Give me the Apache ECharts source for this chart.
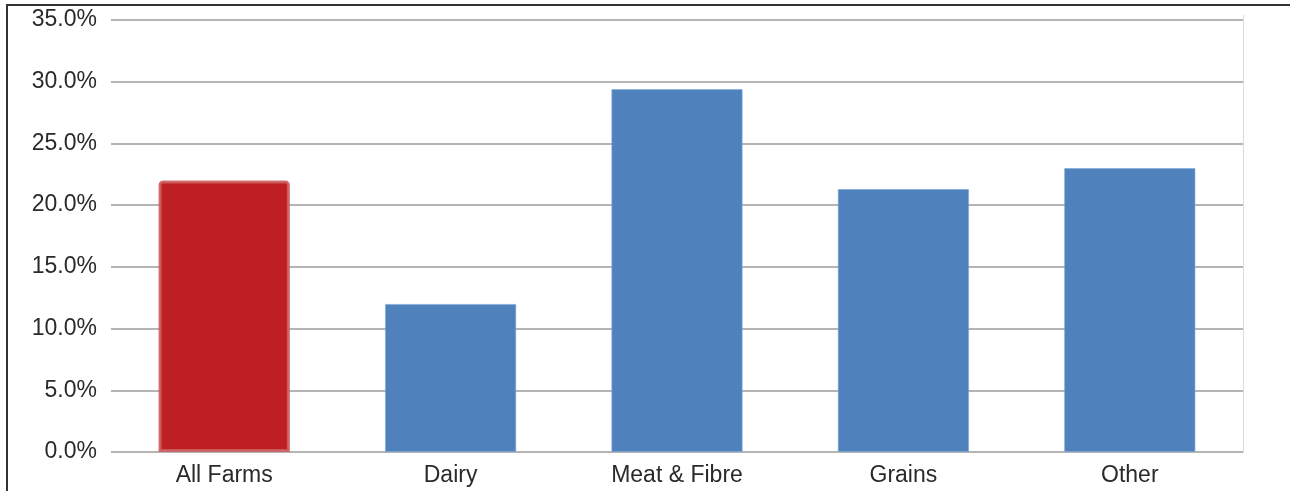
<!DOCTYPE html>
<html>
<head>
<meta charset="utf-8">
<script src="https://cdn.jsdelivr.net/npm/echarts@6/dist/echarts.min.js"></script>
<style>
  html, body { margin: 0; padding: 0; background: #fff; }
  #chart { width: 1290px; height: 491px; }
</style>
</head>
<body>
<div id="chart"></div>
<script>
// Share of farms by industry (%)
const categories = ['All Farms', 'Dairy', 'Meat & Fibre', 'Grains', 'Other'];
const values = [22.0, 12.0, 29.4, 21.3, 23.0];
const highlightCategory = 'All Farms';

const yMin = 0;
const yMax = 35;
const yStep = 5;

const chart = echarts.init(document.getElementById('chart'), null, { renderer: 'canvas' });

const labelFont = '"Liberation Sans", Arial, sans-serif';

chart.setOption({
  animation: false,
  backgroundColor: '#ffffff',
  grid: { left: 111, right: 47, top: 20, bottom: 39, containLabel: false },
  xAxis: {
    type: 'category',
    data: categories,
    axisLine: { show: false },
    axisTick: { show: false },
    axisLabel: { color: '#2a2a2a', fontSize: 23, fontFamily: labelFont, margin: 12 }
  },
  yAxis: {
    type: 'value',
    min: yMin,
    max: yMax,
    interval: yStep,
    axisLine: { show: false },
    axisTick: { show: false },
    axisLabel: {
      color: '#2a2a2a', fontSize: 23, fontFamily: labelFont, margin: 14,
      formatter: v => v.toFixed(1) + '%'
    },
    splitLine: { lineStyle: { color: '#b4b4b4', width: 2 } }
  },
  series: [{
    type: 'bar',
    barWidth: '58%',
    data: values.map((v, i) => {
      const hi = categories[i] === highlightCategory;
      return {
        value: v,
        itemStyle: hi
          ? { color: '#bd1f25', borderColor: 'rgba(205,95,95,0.9)', borderWidth: 3, borderRadius: [3, 3, 0, 0] }
          : { color: '#4f81bd', borderColor: 'rgba(120,165,215,0.6)', borderWidth: 1 }
      };
    })
  }],
  graphic: [
    // outer frame
    { type: 'rect', silent: true, shape: { x: 7, y: 5, width: 1300, height: 500 },
      style: { fill: 'none', stroke: '#333', lineWidth: 2 } },
    // right edge of plot area
    { type: 'line', silent: true, shape: { x1: 1243.5, y1: 15, x2: 1243.5, y2: 453 },
      style: { stroke: '#dadada', lineWidth: 1 } }
  ]
});
</script>
</body>
</html>
